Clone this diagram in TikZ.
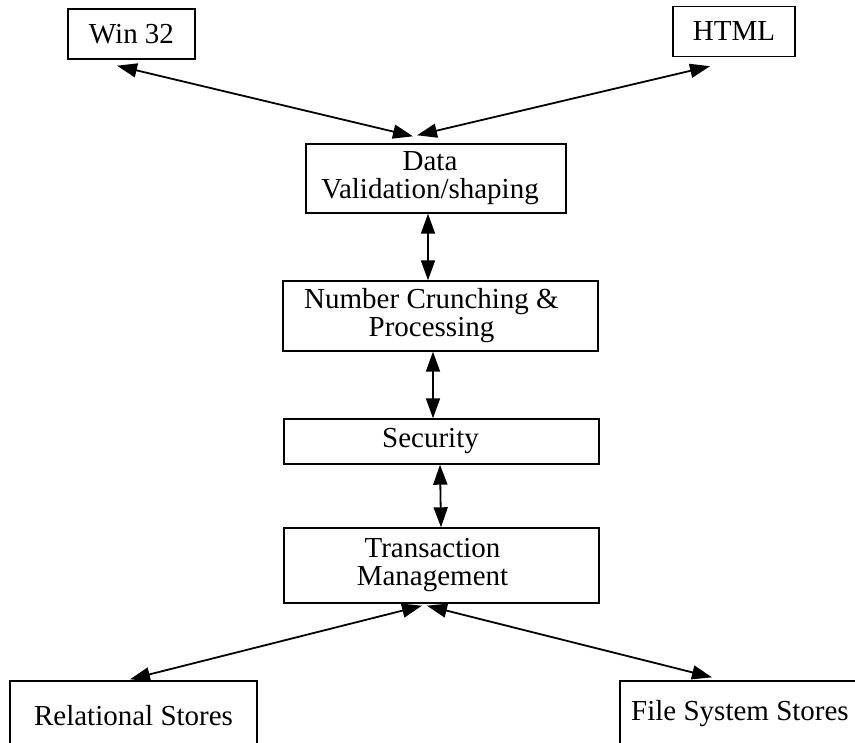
\documentclass[tikz,border=0pt]{standalone}
\usepackage{fontspec}
\setmainfont{Liberation Serif}
\usetikzlibrary{arrows.meta}
\tikzset{
  txt/.style={inner sep=0pt, align=center, font=\fontsize{29}{28}\selectfont},
  box/.style={draw, line width=1.4pt, inner sep=0pt, txt},
  link/.style={line width=1.8pt, {Triangle[length=20pt,width=14pt]}-{Triangle[length=20pt,width=14pt]}}
}
\begin{document}
\begin{tikzpicture}[x=1pt,y=-1pt]
\clip (0,0) rectangle (855,743);
\fill[white] (0,0) rectangle (855,743);
\node[box, minimum width=127pt, minimum height=50pt] (win) at (131.5,34) {Win 32};
\node[box, minimum width=122pt, minimum height=50pt] (html) at (734,31.5) {HTML};
\node[box, minimum width=260pt, minimum height=69pt,
  label={[txt, xshift=-6pt]center:{Data\\Validation/shaping}}] (data) at (436,178.5) {};
\node[box, minimum width=315pt, minimum height=70pt,
  label={[txt, xshift=-9pt]center:{Number Crunching \&\\Processing}}] (num) at (440.5,316) {};
\node[box, minimum width=315pt, minimum height=45pt,
  label={[txt, xshift=-11pt]center:{Security}}] (sec) at (441.5,441.5) {};
\node[box, minimum width=315pt, minimum height=75pt,
  label={[txt, xshift=-9pt]center:{Transaction\\Management}}] (trans) at (441.5,565.5) {};
\node[box, minimum width=247pt, minimum height=70pt] (rel) at (133.5,716) {Relational Stores};
\node[box, minimum width=240pt, minimum height=66pt] (fs) at (740,714) {File System Stores};

\draw[link] ([xshift=-14.5pt,yshift=-6pt]win.south) -- ([xshift=-23pt,yshift=7pt]data.north);
\draw[link] ([xshift=-24pt,yshift=-9pt]html.south) -- ([xshift=-19pt,yshift=8pt]data.north);
\draw[link] ([xshift=-8pt]data.south) -- ([xshift=-12.5pt]num.north);
\draw[link] ([xshift=-7.5pt]num.south) -- ([xshift=-8.5pt]sec.north);
\draw[link] ([xshift=-1.5pt]sec.south) -- ([xshift=-0.5pt]trans.north);
\draw[link] ([xshift=-19.5pt,yshift=-2pt]trans.south) -- ([xshift=-3.5pt,yshift=1pt]rel.north);
\draw[link] ([xshift=-14.5pt,yshift=-2pt]trans.south) -- ([xshift=-28pt,yshift=3pt]fs.north);
\end{tikzpicture}
\end{document}
